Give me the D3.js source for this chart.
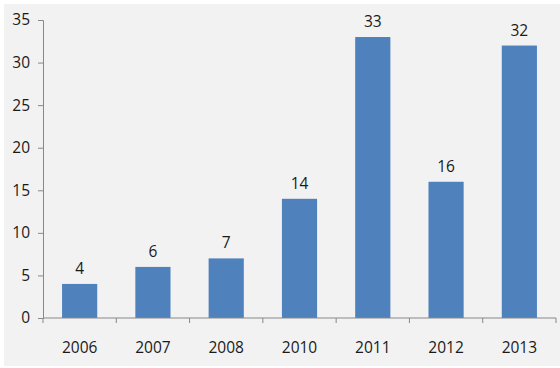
<!DOCTYPE html>
<html><head><meta charset="utf-8">
<script src="https://cdn.jsdelivr.net/npm/d3@7"></script>
<style>body{margin:0;background:#fff}svg{display:block}</style>
</head><body>
<svg id="c" width="560" height="368"></svg>
<script>
const categories = ["2006","2007","2008","2010","2011","2012","2013"];
const values = [4,6,7,14,33,16,32];
const yTicks = [0,5,10,15,20,25,30,35];

(function(){
const svg = d3.select("#c");
svg.append("rect").attr("x",4).attr("y",4).attr("width",556).attr("height",362).attr("fill","#f2f2f2");

const mLeft=43, mRight=556, mTop=20, mBottom=318;
const x = d3.scaleBand().domain(categories).range([mLeft,mRight]).paddingInner(0.52).paddingOuter(0.26);
const y = d3.scaleLinear().domain([0,35]).range([mBottom,mTop]);
const font = "'Open Sans', 'Noto Sans', sans-serif";

svg.selectAll("rect.bar").data(values).join("rect").attr("class","bar")
  .attr("x",(d,i)=>x(categories[i])).attr("width",x.bandwidth())
  .attr("y",d=>y(d)).attr("height",d=>y(0)-y(d)).attr("fill","#4f81bd");

svg.selectAll("text.val").data(values).join("text").attr("class","val")
  .attr("x",(d,i)=>x(categories[i])+x.bandwidth()/2).attr("y",d=>y(d)-10)
  .attr("text-anchor","middle").attr("font-family",font).attr("font-size",15.5).attr("fill","#1a1a1a")
  .text(d=>d);

const ya = svg.append("g").attr("transform",`translate(${mLeft},0)`)
  .call(d3.axisLeft(y).tickValues(yTicks).tickSize(5).tickPadding(8));
ya.selectAll("text").attr("font-family",font).attr("font-size",15.5).attr("fill","#1a1a1a");

const xb = d3.scaleLinear().domain([0,categories.length]).range([mLeft,mRight]);
const xa = svg.append("g").attr("transform",`translate(0,${mBottom})`);
xa.append("line").attr("x1",mLeft).attr("x2",mRight).attr("stroke","#888");
xa.selectAll("line.t").data(d3.range(categories.length+1)).join("line").attr("class","t")
  .attr("x1",d=>xb(d)).attr("x2",d=>xb(d)).attr("y1",0).attr("y2",5).attr("stroke","#888");
xa.selectAll("text").data(categories).join("text")
  .attr("x",d=>x(d)+x.bandwidth()/2).attr("y",35).attr("text-anchor","middle")
  .attr("font-family",font).attr("font-size",15.5).attr("fill","#1a1a1a").text(d=>d);

svg.selectAll(".domain, .tick line").attr("stroke","#888");
})();
</script>
</body></html>
